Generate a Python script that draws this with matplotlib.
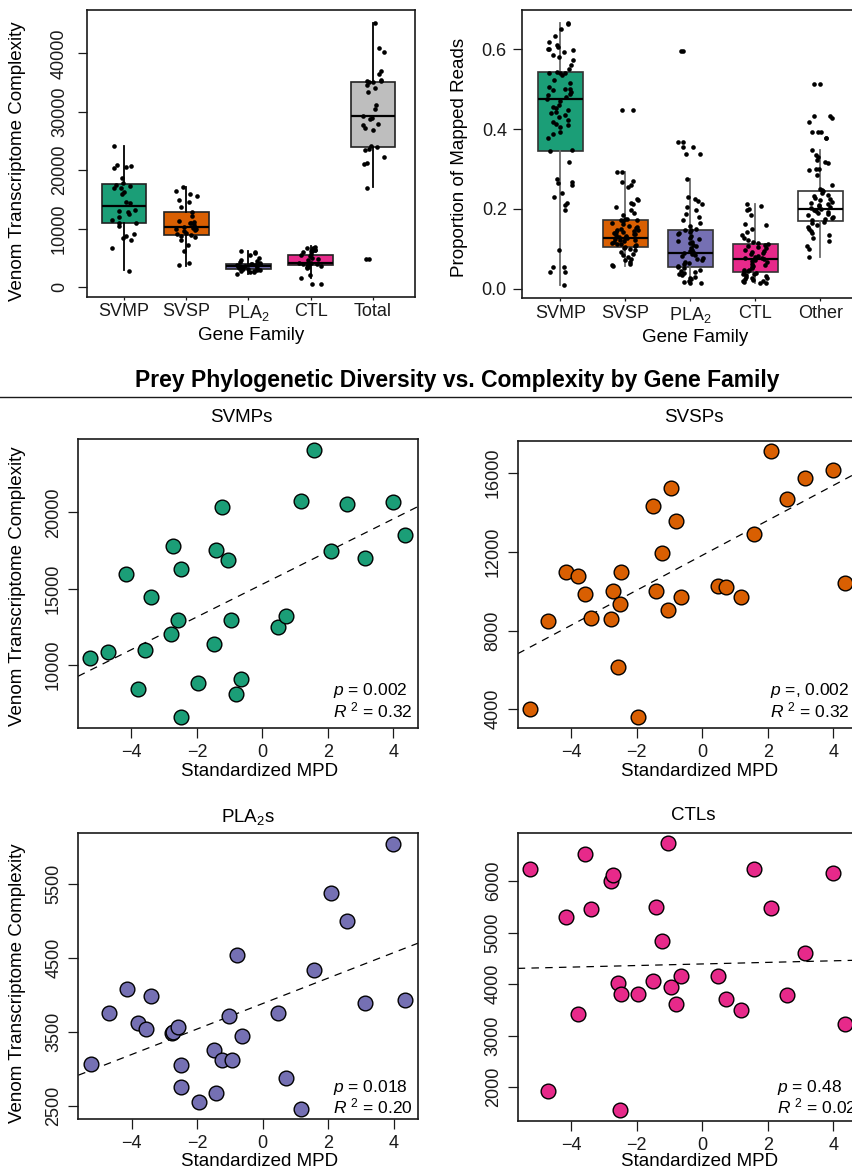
import numpy as np
import matplotlib
matplotlib.use("Agg")
import matplotlib.pyplot as plt

plt.rcParams["font.family"] = ["Liberation Sans", "DejaVu Sans"]
plt.rcParams["mathtext.fontset"] = "custom"
plt.rcParams["mathtext.rm"] = "Liberation Sans"
plt.rcParams["mathtext.it"] = "Liberation Sans:italic"
plt.rcParams["mathtext.bf"] = "Liberation Sans:bold"

# ---------------- data ----------------
DARK2 = ["#1B9E77", "#D95F02", "#7570B3", "#E7298A"]

# transcriptome complexity per gene family (top-left boxplot)
cplx_labels = ["SVMP", "SVSP", "PLA$_2$", "CTL", "Total"]
cplx_svmp = [24150, 20800, 20700, 20600, 20400, 18700, 17800, 17500, 17300, 17000,
             16900, 16300, 16000, 14500, 14400, 13200, 13000, 12900, 12500, 12000,
             11400, 11000, 10900, 10500, 9100, 8800, 8400, 8100, 6600, 2800]
cplx_svsp = [17200, 16400, 16000, 15600, 14900, 14600, 13700, 12900, 12100, 11300,
             11100, 11000, 10900, 10600, 10300, 10100, 10000, 9900, 9700, 9600,
             9300, 9000, 8900, 8700, 8600, 8100, 7200, 6200, 4100, 3700]
cplx_pla2 = [6100, 6000, 5900, 5400, 5000, 4600, 4500, 4300, 4100, 4000,
             3950, 3900, 3800, 3750, 3700, 3600, 3550, 3500, 3450, 3300,
             3200, 3100, 3050, 3000, 2900, 2800, 2700, 2600, 2500, 2200]
cplx_ctl = [6900, 6700, 6600, 6400, 6300, 6200, 6100, 6000, 5600, 5500,
            5300, 5000, 4800, 4600, 4200, 4100, 4000, 3900, 3800, 3700,
            3600, 3500, 3400, 3200, 2000, 1600, 600, 600]
cplx_total = [45250, 40900, 40300, 37000, 36400, 35400, 35300, 35200, 35100, 35000,
              34600, 34000, 33400, 31200, 30400, 29300, 29000, 28800, 27900, 27700,
              27200, 26900, 24200, 23900, 23700, 23400, 22300, 21200, 21100, 17000,
              4800, 4800]
# box summaries: (whisker low, Q1, median, Q3, whisker high)
cplx_box = [(2850, 10940, 13850, 17600, 24160),
            (3650, 8950, 10200, 12760, 17040),
            (2200, 3080, 3530, 3930, 6100),
            (1600, 3700, 4160, 5470, 6950),
            (17040, 23930, 29340, 35040, 45240)]

# proportion of mapped reads per gene family (top-right boxplot)
prop_labels = ["SVMP", "SVSP", "PLA$_2$", "CTL", "Other"]
prop_svmp = [0.667, 0.663, 0.652, 0.633, 0.619, 0.611, 0.607, 0.602, 0.600, 0.598,
             0.594, 0.586, 0.582, 0.573, 0.561, 0.552, 0.544, 0.542, 0.540, 0.540,
             0.535, 0.523, 0.515, 0.506, 0.502, 0.500, 0.498, 0.494, 0.489, 0.485,
             0.481, 0.477, 0.470, 0.460, 0.455, 0.452, 0.447, 0.443, 0.440, 0.435,
             0.430, 0.424, 0.418, 0.414, 0.410, 0.406, 0.393, 0.389, 0.379, 0.347,
             0.346, 0.318, 0.276, 0.268, 0.264, 0.260, 0.240, 0.230, 0.215, 0.211,
             0.198, 0.096, 0.055, 0.054, 0.042, 0.042, 0.009]
prop_svsp = [0.449, 0.449, 0.293, 0.293, 0.271, 0.268, 0.260, 0.254, 0.226, 0.222,
             0.216, 0.213, 0.205, 0.197, 0.190, 0.184, 0.176, 0.174, 0.173, 0.172,
             0.170, 0.165, 0.163, 0.158, 0.155, 0.152, 0.150, 0.148, 0.146, 0.145,
             0.143, 0.142, 0.140, 0.138, 0.136, 0.134, 0.132, 0.130, 0.128, 0.126,
             0.124, 0.122, 0.121, 0.119, 0.117, 0.115, 0.113, 0.111, 0.109, 0.107,
             0.105, 0.103, 0.100, 0.096, 0.092, 0.088, 0.084, 0.080, 0.075, 0.072,
             0.067, 0.063, 0.060, 0.058]
prop_pla2 = [0.596, 0.596, 0.368, 0.368, 0.355, 0.355, 0.338, 0.338, 0.274, 0.231,
             0.225, 0.220, 0.213, 0.205, 0.197, 0.188, 0.180, 0.172, 0.165, 0.156,
             0.150, 0.148, 0.146, 0.143, 0.140, 0.136, 0.132, 0.128, 0.124, 0.120,
             0.117, 0.114, 0.110, 0.106, 0.102, 0.098, 0.095, 0.092, 0.090, 0.088,
             0.085, 0.082, 0.078, 0.075, 0.072, 0.068, 0.065, 0.062, 0.058, 0.055,
             0.052, 0.048, 0.045, 0.042, 0.040, 0.037, 0.034, 0.030, 0.027, 0.024,
             0.020, 0.017, 0.015, 0.013]
prop_ctl = [0.212, 0.208, 0.200, 0.198, 0.184, 0.163, 0.160, 0.150, 0.142, 0.135,
            0.128, 0.122, 0.118, 0.115, 0.112, 0.110, 0.107, 0.104, 0.101, 0.098,
            0.095, 0.092, 0.089, 0.086, 0.083, 0.080, 0.078, 0.076, 0.074, 0.072,
            0.069, 0.066, 0.063, 0.060, 0.057, 0.054, 0.051, 0.048, 0.046, 0.044,
            0.042, 0.040, 0.038, 0.036, 0.034, 0.032, 0.030, 0.028, 0.026, 0.024,
            0.022, 0.020, 0.018, 0.016, 0.014, 0.013]
prop_other = [0.513, 0.513, 0.432, 0.432, 0.428, 0.418, 0.394, 0.394, 0.392, 0.379,
              0.379, 0.347, 0.335, 0.330, 0.322, 0.318, 0.314, 0.301, 0.301, 0.298,
              0.284, 0.259, 0.251, 0.248, 0.244, 0.240, 0.236, 0.232, 0.228, 0.225,
              0.222, 0.218, 0.215, 0.212, 0.210, 0.207, 0.205, 0.203, 0.200, 0.198,
              0.195, 0.192, 0.190, 0.187, 0.184, 0.181, 0.178, 0.175, 0.172, 0.168,
              0.165, 0.160, 0.155, 0.150, 0.145, 0.140, 0.135, 0.128, 0.120, 0.108,
              0.100, 0.079]
prop_box = [(0.008, 0.345, 0.475, 0.544, 0.667),
            (0.058, 0.104, 0.126, 0.173, 0.293),
            (0.013, 0.054, 0.090, 0.146, 0.274),
            (0.013, 0.042, 0.075, 0.113, 0.213),
            (0.079, 0.169, 0.201, 0.244, 0.347)]

# standardized MPD of prey and per-family complexity (scatter panels)
mpd = [-5.25, -4.70, -4.15, -3.80, -3.57, -3.40, -2.78, -2.73, -2.58, -2.50,
       -2.48, -1.96, -1.49, -1.42, -1.23, -1.04, -0.95, -0.80, -0.64, 0.48,
       0.72, 1.17, 1.58, 2.10, 2.57, 3.12, 3.98, 4.35]
svmp = [10480, 10830, 15940, 8450, 11010, 14460, 12050, 17770, 12970, 6620,
        16270, 8850, 11360, 17510, 20330, 16860, 12930, 8080, 9090, 12510,
        13210, 20740, 24080, 17490, 20520, 16990, 20700, 18490]
svsp = [4030, 8500, 10970, 10770, 9840, 8650, 8600, 10010, 6160, 9360,
        10970, 3610, 14320, 9990, 11940, 9030, 15240, 13560, 9720, 10240,
        10210, 9700, 12920, 17120, 14680, 15760, 16170, 10430]
pla2 = [3060, 3760, 4080, 3620, 3540, 3980, 3480, 3500, 3560, 2750,
        3050, 2560, 3250, 2670, 3120, 3710, 3120, 4540, 3450, 3750,
        2880, 2460, 4330, 5380, 4990, 3890, 6030, 3930]
ctl = [6230, 1930, 5310, 3410, 6520, 5450, 6000, 6120, 4020, 1560,
       3800, 3800, 4060, 5500, 4840, 6730, 3940, 3620, 4160, 4160,
       3700, 3500, 6230, 5480, 3790, 4600, 6160, 3230]
# fitted regression lines (intercept, slope)
fit_intercept = [15290, 11820, 3882, 4390]
fit_slope = [1071, 888, 171.8, 15.3]
p_text = ["= 0.002", "=, 0.002", "= 0.018", "= 0.48"]
r2_text = ["= 0.32", "= 0.32", "= 0.20", "= 0.02"]

# ---------------- figure ----------------
W, H = 852, 1172
fig = plt.figure(figsize=(W / 100, H / 100), dpi=100)
FS = 13
LFS = 13.5
INK = "#1a1a1a"


def add_ax(l, t, r, b):
    return fig.add_axes([l / W, 1 - b / H, (r - l) / W, (b - t) / H])


def ftext(x, y, s, **kw):
    kw.setdefault("fontsize", LFS)
    kw.setdefault("ha", "center")
    kw.setdefault("va", "center")
    return fig.text(x / W, 1 - y / H, s, **kw)


def frame(ax):
    for sp in ax.spines.values():
        sp.set_linewidth(1.2)
        sp.set_color(INK)
    ax.tick_params(direction="out", width=0.9, color=INK, labelsize=FS,
                   labelcolor=INK)


def box_panel(ax, groups, stats, fills, edge, whisk, width, seed):
    bstats = [dict(whislo=s[0], q1=s[1], med=s[2], q3=s[3], whishi=s[4], fliers=[])
              for s in stats]
    pos = np.arange(1, len(groups) + 1)
    art = ax.bxp(bstats, positions=pos, widths=width, patch_artist=True,
                 showcaps=False, showfliers=False,
                 boxprops=dict(edgecolor=edge, linewidth=1.2),
                 medianprops=dict(color="black", linewidth=1.6),
                 whiskerprops=dict(color=whisk, linewidth=1.3))
    for patch, c in zip(art["boxes"], fills):
        patch.set_facecolor(c)
    rng = np.random.default_rng(seed)
    for p, vals in zip(pos, groups):
        xj = p + rng.uniform(-0.2, 0.2, len(vals))
        ax.scatter(xj, vals, s=11, color="black", linewidths=0, zorder=4)
    ax.set_xlim(0.406, 5.675)


# ---- top-left: complexity boxplot ----
axA = add_ax(87, 10, 415, 297)
frame(axA)
box_panel(axA, [cplx_svmp, cplx_svsp, cplx_pla2, cplx_ctl, cplx_total], cplx_box,
          DARK2 + ["#BEBEBE"], "#222222", "black", 0.72, 3)
axA.set_ylim(-1700, 47400)
axA.set_yticks([0, 10000, 20000, 30000, 40000])
axA.set_yticklabels(["0", "10000", "20000", "30000", "40000"], rotation=90, va="center")
axA.tick_params(axis="y", length=6.7, pad=7)
axA.set_xticks(np.arange(1, 6))
axA.set_xticklabels(cplx_labels)
axA.tick_params(axis="x", length=2.5, pad=2)
ftext(18, 161, "Venom Transcriptome Complexity", rotation=90)
ftext(251, 336, "Gene Family")

# ---- top-right: proportion boxplot ----
axB = add_ax(521.7, 10, 864, 298)
frame(axB)
box_panel(axB, [prop_svmp, prop_svsp, prop_pla2, prop_ctl, prop_other], prop_box,
          DARK2 + ["white"], "#333333", "#6b6b6b", 0.69, 5)
axB.set_ylim(-0.0234, 0.699)
axB.set_yticks([0.0, 0.2, 0.4, 0.6])
axB.set_yticklabels(["0.0", "0.2", "0.4", "0.6"])
axB.tick_params(axis="y", length=6.7, pad=4)
axB.set_xticks(np.arange(1, 6))
axB.set_xticklabels(prop_labels)
axB.tick_params(axis="x", length=2.5, pad=2.5)
ftext(460, 157, "Proportion of Mapped Reads", rotation=90)
ftext(695, 337, "Gene Family")

# ---- section heading ----
ftext(457, 381, "Prey Phylogenetic Diversity vs. Complexity by Gene Family",
      fontweight="bold", fontsize=16.5)
fig.add_artist(plt.Line2D([0, 1], [1 - 397 / H, 1 - 397 / H], color=INK,
                          linewidth=1.0, transform=fig.transFigure))

# ---- scatter panels ----
panels = [
    dict(box=(78, 439.3, 418, 727.7), ylim=(5894, 24780),
         yt=[10000, 15000, 20000], y=svmp, title="SVMPs",
         tpos=(241, 418), xl=(260, 771), yl=(18, 586), ann=(333.3, 691, 710)),
    dict(box=(517.7, 440.7, 858, 728.3), ylim=(3032, 17642),
         yt=[4000, 8000, 12000, 16000], y=svsp, title="SVSPs",
         tpos=(694, 418), xl=(700, 771), yl=None, ann=(770, 691, 710)),
    dict(box=(78.3, 833.3, 418.3, 1119.3), ylim=(2320, 6179),
         yt=[2500, 3500, 4500, 5500], y=pla2, title="PLA$_2$s",
         tpos=(248, 817), xl=(260, 1161), yl=(18, 983), ann=(333.3, 1087.7, 1106)),
    dict(box=(517.7, 832.7, 858, 1120.7), ylim=(1347, 6938),
         yt=[2000, 3000, 4000, 5000, 6000], y=ctl, title="CTLs",
         tpos=(693, 815), xl=(700, 1162), yl=None, ann=(776.7, 1087.7, 1106)),
]

for i, pnl in enumerate(panels):
    ax = add_ax(*pnl["box"])
    frame(ax)
    ax.scatter(mpd, pnl["y"], s=112, facecolor=DARK2[i], edgecolor="black",
               linewidth=1.0, zorder=3, clip_on=True)
    ax.axline((0, fit_intercept[i]), slope=fit_slope[i], color="black",
              linewidth=0.9, linestyle=(0, (6, 5)), zorder=2)
    ax.set_xlim(-5.63, 4.75)
    ax.set_ylim(*pnl["ylim"])
    ax.set_xticks([-4, -2, 0, 2, 4])
    ax.set_xticklabels(["\u22124", "\u22122", "0", "2", "4"])
    ax.set_yticks(pnl["yt"])
    ax.set_yticklabels([str(v) for v in pnl["yt"]], rotation=90, va="center")
    ax.tick_params(length=7, pad=4.5)
    ftext(*pnl["tpos"], pnl["title"])
    ftext(*pnl["xl"], "Standardized MPD")
    if pnl["yl"] is not None:
        ftext(*pnl["yl"], "Venom Transcriptome Complexity", rotation=90)
    ax_x, py, ry = pnl["ann"]
    ftext(ax_x, py, "$p$ " + p_text[i], ha="left", fontsize=12.5)
    ftext(ax_x, ry, "$R$ $^2$ " + r2_text[i], ha="left", fontsize=12.5)

fig.savefig("out.png", dpi=100)
